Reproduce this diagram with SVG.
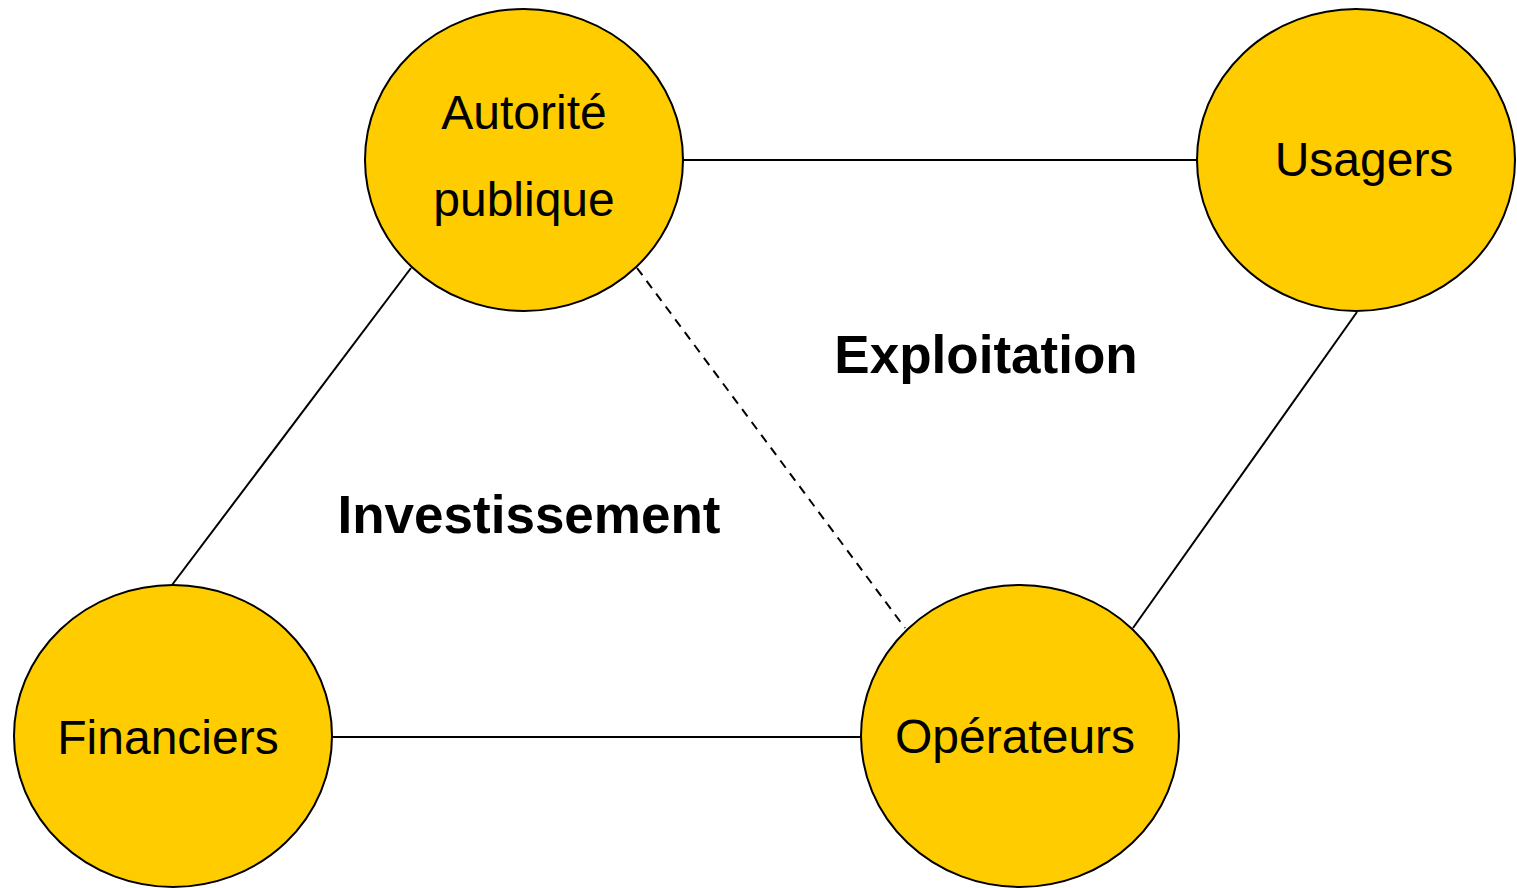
<svg xmlns="http://www.w3.org/2000/svg" width="1517" height="888" viewBox="0 0 1517 888">
<style>
.node{fill:#FFCC00;stroke:#000;stroke-width:2}
.lbl{font-family:"Liberation Sans",Arial,sans-serif;font-size:48px;fill:#000;text-anchor:middle}
.big{font-family:"Liberation Sans",Arial,sans-serif;font-size:53px;font-weight:bold;fill:#000;text-anchor:middle}
.edge{stroke:#000;stroke-width:2;fill:none}
.dash{stroke-dasharray:9,7}
</style>
<rect width="1517" height="888" fill="#fff"/>
<g id="connectors">
<line class="edge" x1="683" y1="160" x2="1198" y2="160"/>
<line class="edge" x1="411" y1="268" x2="172" y2="585"/>
<line class="edge" x1="1357" y1="312" x2="1133" y2="628"/>
<line class="edge" x1="332" y1="737" x2="861" y2="737"/>
<line class="edge dash" x1="637" y1="268" x2="905" y2="628"/>
</g>
<g id="autorite">
<ellipse class="node" cx="524" cy="160" rx="159" ry="151"/>
<text class="lbl" x="524" y="129">Autorité</text>
<text class="lbl" x="524" y="216">publique</text>
</g>
<g id="usagers">
<ellipse class="node" cx="1356" cy="160" rx="159" ry="151"/>
<text class="lbl" x="1364" y="176">Usagers</text>
</g>
<g id="financiers">
<ellipse class="node" cx="173" cy="736" rx="159" ry="151"/>
<text class="lbl" x="168" y="754">Financiers</text>
</g>
<g id="operateurs">
<ellipse class="node" cx="1020" cy="736" rx="159" ry="151"/>
<text class="lbl" x="1015" y="753">Opérateurs</text>
</g>
<g id="labels">
<text class="big" x="986" y="373">Exploitation</text>
<text class="big" x="529" y="533">Investissement</text>
</g>
</svg>
